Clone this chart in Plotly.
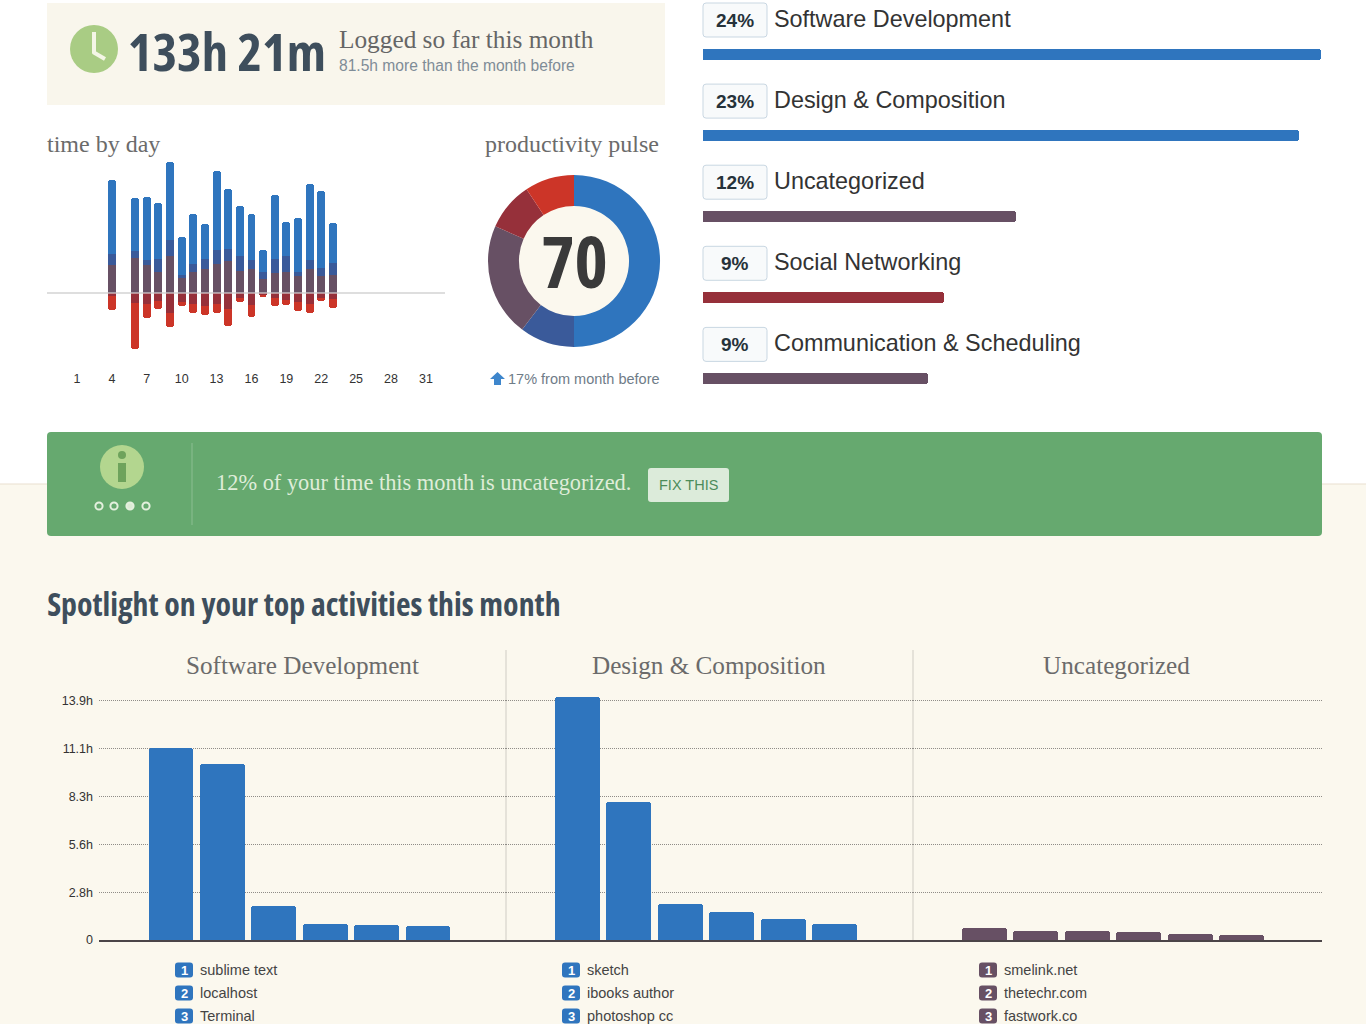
import plotly.graph_objects as go

W, H = 1366, 1024

# ---- data ----
DAYS = [4, 6, 7, 8, 9, 10, 11, 12, 13, 14, 15, 16, 17, 18, 19, 20, 21, 22, 23]
NEUTRAL = [1.86, 2.30, 1.86, 1.38, 2.41, 0.99, 1.36, 1.58, 1.91, 2.12, 1.42, 1.58, 0.94, 1.31, 1.36, 1.10, 1.58, 1.10, 1.16]
PRODUCTIVE = [0.72, 0.44, 0.33, 0.85, 1.10, 0.22, 0.57, 0.66, 0.94, 0.79, 1.03, 0.61, 0.44, 0.92, 1.10, 0.28, 0.61, 0.55, 0.81]
VERY_PRODUCTIVE = [4.86, 3.48, 4.10, 3.68, 5.10, 2.47, 3.29, 2.28, 5.15, 3.94, 3.26, 2.98, 1.42, 4.20, 2.23, 3.57, 4.99, 5.04, 2.63]
DISTRACTING = [-0.18, -0.66, -0.70, -0.55, -1.31, -0.61, -0.70, -0.83, -0.70, -1.03, -0.33, -0.77, -0.15, -0.33, -0.48, -0.59, -0.70, -0.33, -0.37]
VERY_DISTRACTING = [-0.92, -3.00, -0.92, -0.48, -0.92, -0.22, -0.59, -0.59, -0.59, -1.14, -0.28, -0.79, -0.09, -0.55, -0.33, -0.61, -0.64, -0.18, -0.61]
DAY_TICKS = [1, 4, 7, 10, 13, 16, 19, 22, 25, 28, 31]

PULSE_LABELS = ["Very productive", "Productive", "Neutral", "Distracting", "Very distracting"]
PULSE_VALUES = [50.0, 10.3, 21.3, 9.1, 9.3]
PULSE_SCORE = "70"

CATEGORIES = ["Software Development", "Design & Composition", "Uncategorized", "Social Networking", "Communication & Scheduling"]
CATEGORY_LABELS = ["24%", "23%", "12%", "9%", "9%"]
CATEGORY_VALUES = [24.0, 23.15, 12.15, 9.36, 8.74]

SPOT_TITLES = ["Software Development", "Design & Composition", "Uncategorized"]
SPOT_RANKS = [1, 2, 3, 4, 5, 6]
SPOT_SOFTWARE = [11.16, 10.23, 1.98, 0.93, 0.87, 0.84]
SPOT_DESIGN = [14.13, 8.05, 2.12, 1.63, 1.22, 0.93]
SPOT_UNCAT = [0.70, 0.52, 0.52, 0.47, 0.35, 0.29]
SPOT_TICKVALS = [0, 2.78, 5.56, 8.34, 11.12, 13.9]
SPOT_TICKTEXT = ["0", "2.8h", "5.6h", "8.3h", "11.1h", "13.9h"]
SOFTWARE_APPS = ["sublime text", "localhost", "Terminal"]
DESIGN_APPS = ["sketch", "ibooks author", "photoshop cc"]
UNCAT_APPS = ["smelink.net", "thetechr.com", "fastwork.co"]

# ---- styles ----
BLUE = "#2F75BE"
DKBLUE = "#3A5A9A"
PURPLE = "#675064"
DKRED = "#96303A"
RED = "#CC3528"
BEIGE = "#FBF8EE"
SANS = "Liberation Sans, Arial, sans-serif"
SERIF = "Liberation Serif, Georgia, serif"
NARROW = "Open Sans, Roboto, sans-serif"
SLATE = "#3E4E5C"
PAD = 2


def fx(p):
    return p / W


def fy(p):
    return 1 - p / H


annotations, shapes = [], []


def text(px, py, s, size, color, family=SANS, anchor="left"):
    shift = {"left": -PAD, "right": PAD, "center": 0}[anchor]
    annotations.append(dict(x=fx(px + shift), y=fy(py), xref="paper", yref="paper", text=s, showarrow=False,
                            xanchor=anchor, yanchor="middle", font=dict(size=size, color=color, family=family)))


def rect(x0, y0, x1, y1, fill, line=None, r=0, lw=1, layer="below"):
    if r:
        a, b = r, r
        pts = (f"M{fx(x0+a)},{fy(y0)} L{fx(x1-a)},{fy(y0)} Q{fx(x1)},{fy(y0)} {fx(x1)},{fy(y0+b)} "
               f"L{fx(x1)},{fy(y1-b)} Q{fx(x1)},{fy(y1)} {fx(x1-a)},{fy(y1)} "
               f"L{fx(x0+a)},{fy(y1)} Q{fx(x0)},{fy(y1)} {fx(x0)},{fy(y1-b)} "
               f"L{fx(x0)},{fy(y0+b)} Q{fx(x0)},{fy(y0)} {fx(x0+a)},{fy(y0)} Z")
        shapes.append(dict(type="path", path=pts, xref="paper", yref="paper", fillcolor=fill,
                           line=dict(color=line or fill, width=lw if line else 0), layer=layer))
    else:
        shapes.append(dict(type="rect", x0=fx(x0), x1=fx(x1), y0=fy(y0), y1=fy(y1), xref="paper", yref="paper",
                           fillcolor=fill, line=dict(color=line or fill, width=lw if line else 0), layer=layer))


def circle(cx, cy, r, fill, line=None, lw=1, layer="below"):
    shapes.append(dict(type="circle", x0=fx(cx - r), x1=fx(cx + r), y0=fy(cy - r), y1=fy(cy + r),
                       xref="paper", yref="paper", fillcolor=fill,
                       line=dict(color=line or fill, width=lw if line else 0), layer=layer))


def seg(x0, y0, x1, y1, color, width, dash="solid", layer="below"):
    shapes.append(dict(type="line", x0=fx(x0), x1=fx(x1), y0=fy(y0), y1=fy(y1), xref="paper", yref="paper",
                       line=dict(color=color, width=width, dash=dash), layer=layer))


fig = go.Figure()

# ---- page background ----
rect(0, 484, W, H, BEIGE)
seg(0, 484, W, 484, "#E9DFCF", 1)

# ---- logged time box ----
rect(47, 3, 665, 105, "#F9F6EC")
circle(94, 49, 24, "#A9CC84")
seg(94, 32, 94, 53, "#F4F6E6", 4, layer="above")
seg(93, 52, 105, 59, "#F4F6E6", 4, layer="above")
text(227, 50, "<b>133h 21m</b>", 52.5, SLATE, NARROW, "center")
text(339, 39, "Logged so far this month", 25.3, "#666666", SERIF)
text(339, 65, "81.5h more than the month before", 15.6, "#7F8C97", SANS)

# ---- time by day ----
text(47, 143.5, "time by day", 24, "#6B6B6B", SERIF)
for vals, col in [(NEUTRAL, PURPLE), (PRODUCTIVE, DKBLUE), (VERY_PRODUCTIVE, BLUE),
                  (DISTRACTING, DKRED), (VERY_DISTRACTING, RED)]:
    fig.add_trace(go.Bar(x=DAYS, y=vals, marker=dict(color=col, line=dict(width=0)), width=0.68,
                         xaxis="x", yaxis="y", showlegend=False))
seg(47, 293, 445, 293, "rgba(225,225,225,0.55)", 2, layer="above")

# ---- productivity pulse ----
text(659, 143.5, "productivity pulse", 24, "#6B6B6B", SERIF, "right")
circle(574, 261, 56, BEIGE)
fig.add_trace(go.Pie(labels=PULSE_LABELS, values=PULSE_VALUES, sort=False, direction="clockwise", rotation=0,
                     hole=0.64, textinfo="none", showlegend=False,
                     marker=dict(colors=[BLUE, DKBLUE, PURPLE, DKRED, RED], line=dict(width=0)),
                     domain=dict(x=[fx(488), fx(660)], y=[fy(347), fy(175)])))
text(574, 260, f"<b>{PULSE_SCORE}</b>", 71, "#3A3A3A", NARROW, "center")
shapes.append(dict(type="path", xref="paper", yref="paper", fillcolor="#3E86CC", line=dict(width=0), layer="above",
                   path=(f"M{fx(490)},{fy(379)} L{fx(497.5)},{fy(372)} L{fx(505)},{fy(379)} L{fx(501)},{fy(379)} "
                         f"L{fx(501)},{fy(385)} L{fx(494)},{fy(385)} L{fx(494)},{fy(379)} Z")))
text(508, 379, "17% from month before", 14.5, "#6F7C88", SANS)

# ---- top categories ----
fig.add_trace(go.Bar(y=CATEGORIES, x=CATEGORY_VALUES, orientation="h", width=0.148,
                     marker=dict(color=[BLUE, BLUE, PURPLE, DKRED, PURPLE], line=dict(width=0)),
                     xaxis="x2", yaxis="y2", showlegend=False))
for i, (cat, lab) in enumerate(zip(CATEGORIES, CATEGORY_LABELS)):
    cy = 20 + 81.1 * i
    rect(703, cy - 17, 767, cy + 17, "#F8FAFB", "#C9D7E2", r=3, lw=1)
    text(735, cy + 0.5, f"<b>{lab}</b>", 19, "#26323A", SANS, "center")
    text(774, cy - 1, cat, 23.4, "#333333", SANS)

# ---- banner ----
rect(47, 432, 1322, 536, "#66A96F", r=4)
circle(122, 467, 22, "#B3D68F")
circle(122, 455, 4, "#6EA35C", layer="above")
seg(122, 463, 122, 482, "#6EA35C", 8, layer="above")
for i, dx in enumerate([99, 114, 130, 146]):
    circle(dx, 506, 3.6, "#DCEBD5" if i == 2 else "#66A96F", "#E4F0DE", 2, layer="above")
seg(192, 443, 192, 525, "#8BBE92", 1)
text(216, 482, "12% of your time this month is uncategorized.", 22.4, "#DFEDD9", SERIF)
rect(648, 468, 729, 502, "#DCEBDA", r=3)
text(688.5, 484.5, "FIX THIS", 14.5, "#4C8C5A", SANS, "center")

# ---- spotlight ----
text(303.5, 603, "<b>Spotlight on your top activities this month</b>", 31.8, SLATE, NARROW, "center")
for name, cx in zip(SPOT_TITLES, [302, 709, 1116]):
    text(cx, 665, name, 25.2, "#6B6B6B", SERIF, "center")
seg(506, 650, 506, 940, "#CFCCC4", 1)
seg(913, 650, 913, 940, "#CFCCC4", 1)

panels = [(SPOT_SOFTWARE, BLUE, "x3", "y3", SOFTWARE_APPS, 175),
          (SPOT_DESIGN, BLUE, "x4", "y4", DESIGN_APPS, 562),
          (SPOT_UNCAT, PURPLE, "x5", "y5", UNCAT_APPS, 979)]
for vals, col, xa, ya, apps, bx in panels:
    fig.add_trace(go.Bar(x=SPOT_RANKS, y=vals, width=0.875, marker=dict(color=col, line=dict(width=0)),
                         xaxis=xa, yaxis=ya, showlegend=False))
    for i, app in enumerate(apps):
        cy = 970 + 23 * i
        rect(bx, cy - 7.5, bx + 18, cy + 7.5, col, r=3)
        text(bx + 9, cy, f"<b>{i + 1}</b>", 13, "#FFFFFF", SANS, "center")
        text(bx + 25, cy, app, 14.5, "#444444", SANS)

# ---- axes ----
PX_PER_DAY = 11.63
PX_PER_HOUR_DAY = 15.23
BASE_DAY = 293
TOP_DAY, BOT_DAY = 155, 367
hidden = dict(showgrid=False, zeroline=False, showticklabels=False, ticks="", showline=False, fixedrange=True,
              automargin=False)

layout_axes = dict(
    xaxis=dict(domain=[fx(47), fx(445)], range=[1 + (47 - 77) / PX_PER_DAY, 1 + (445 - 77) / PX_PER_DAY],
               tickmode="array", tickvals=DAY_TICKS, ticks="", showgrid=False, zeroline=False, showline=False,
               tickfont=dict(size=12.5, color="#333333", family=SANS), anchor="y", ticklabelstandoff=2,
               automargin=False),
    yaxis=dict(domain=[fy(BOT_DAY), fy(TOP_DAY)],
               range=[(BASE_DAY - BOT_DAY) / PX_PER_HOUR_DAY, (BASE_DAY - TOP_DAY) / PX_PER_HOUR_DAY],
               showgrid=False, showticklabels=False, ticks="", zeroline=True, zerolinecolor="#DADADA", zerolinewidth=2,
               anchor="x", automargin=False),
    xaxis2=dict(domain=[fx(703), fx(1321)], range=[0, 24], anchor="y2", **hidden),
    yaxis2=dict(domain=[fy(419), fy(14)], autorange="reversed", anchor="x2", type="category", **hidden),
)
PX_PER_RANK = 51.4
PX_PER_HOUR = 17.2
for n, (x0, x1, first) in zip(["3", "4", "5"], [(99, 506, 171), (506, 913, 577.5), (913, 1322, 984.5)]):
    layout_axes["xaxis" + n] = dict(domain=[fx(x0), fx(x1)],
                                    range=[1 + (x0 - first) / PX_PER_RANK, 1 + (x1 - first) / PX_PER_RANK],
                                    anchor="y" + n, showgrid=False, zeroline=False, showticklabels=False, ticks="",
                                    showline=True, linecolor="#4B4548", linewidth=2, automargin=False)
    layout_axes["yaxis" + n] = dict(domain=[fy(940), fy(690)], range=[0, 250 / PX_PER_HOUR], anchor="x" + n,
                                    tickmode="array", tickvals=SPOT_TICKVALS, ticktext=SPOT_TICKTEXT,
                                    showticklabels=n == "3", ticks="", zeroline=False, showline=False,
                                    showgrid=True, gridcolor="#8F8C87", griddash="1px,1px", gridwidth=1,
                                    tickfont=dict(size=12.5, color="#333333", family=SANS), ticklabelstandoff=5,
                                    automargin=False)

fig.update_layout(width=W, height=H, margin=dict(l=0, r=0, t=0, b=0, autoexpand=False), paper_bgcolor="#FFFFFF",
                  plot_bgcolor="rgba(0,0,0,0)", barmode="relative", bargap=0, barcornerradius=3,
                  showlegend=False, annotations=annotations, shapes=shapes, **layout_axes)

POST = """
document.body.style.margin='0';document.body.style.overflow='hidden';
document.querySelectorAll('.annotation-text').forEach(function(t){
  if ((t.style.fontFamily||'').indexOf('Open Sans')>=0) { t.style.fontStretch='75%'; }
});
"""
fig.write_html("out.html", config=dict(displayModeBar=False, responsive=False), post_script=POST)
